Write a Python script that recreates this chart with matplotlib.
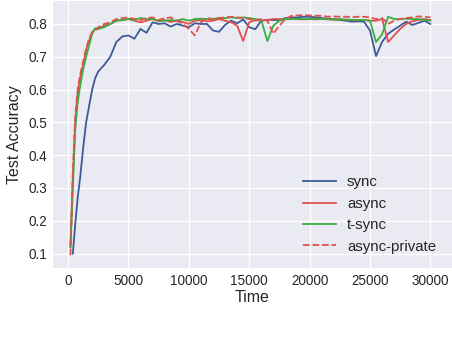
import numpy as np
import matplotlib
matplotlib.use("Agg")
import matplotlib.pyplot as plt

nan = np.nan
time = [200, 400, 600, 800, 1000, 1250, 1500, 1750, 2000, 2250, 2500,
        3000, 3500, 4000, 4500, 5000, 5500, 6000, 6500, 7000, 7500,
        8000, 8500, 9000, 9500, 10000, 10500, 11000, 11500, 12000, 12500,
        13000, 13500, 14000, 14500, 15000, 15500, 16000, 16500, 17000, 17500,
        18000, 18500, 19000, 19500, 20000, 20500, 21000, 21500, 22000, 22500,
        23000, 23500, 24000, 24500, 25000, 25500, 26000, 26500, 27000, 27500,
        28000, 28500, 29000, 29500, 30000]

sync = [nan, 0.10, 0.19, 0.27, 0.33, 0.42, 0.50, 0.55, 0.60, 0.635, 0.655,
        0.675, 0.70, 0.745, 0.762, 0.765, 0.755, 0.785, 0.773, 0.805, 0.800,
        0.802, 0.792, 0.800, 0.795, 0.790, 0.802, 0.800, 0.800, 0.780, 0.776,
        0.797, 0.810, 0.802, 0.814, 0.790, 0.784, 0.810, 0.813, 0.812, 0.812,
        0.818, 0.820, 0.820, 0.822, 0.822, 0.820, 0.818, 0.816, 0.815, 0.812,
        0.810, 0.807, 0.808, 0.807, 0.780, 0.702, 0.745, 0.770, 0.783, 0.795,
        0.807, 0.797, 0.803, 0.810, 0.800]

async_ = [0.12, 0.33, 0.50, 0.59, 0.635, 0.675, 0.72, 0.75, 0.775, 0.785, 0.785,
          0.795, 0.800, 0.810, 0.812, 0.815, 0.810, 0.805, 0.810, 0.815, 0.808,
          0.812, 0.806, 0.810, 0.806, 0.800, 0.810, 0.812, 0.808, 0.810, 0.815,
          0.810, 0.805, 0.795, 0.748, 0.805, 0.812, 0.810, 0.812, 0.815, 0.815,
          0.814, 0.816, 0.815, 0.814, 0.815, 0.814, 0.815, 0.814, 0.813, 0.814,
          0.813, 0.812, 0.812, 0.812, 0.810, 0.810, 0.815, 0.745, 0.765, 0.785,
          0.800, 0.808, 0.812, 0.815, 0.812]

tsync = [0.12, 0.30, 0.48, 0.56, 0.61, 0.66, 0.70, 0.735, 0.77, 0.787, 0.785,
         0.790, 0.800, 0.810, 0.812, 0.815, 0.812, 0.818, 0.815, 0.815, 0.810,
         0.810, 0.812, 0.810, 0.815, 0.810, 0.815, 0.816, 0.815, 0.815, 0.818,
         0.818, 0.820, 0.818, 0.820, 0.818, 0.815, 0.812, 0.748, 0.795, 0.810,
         0.815, 0.815, 0.816, 0.815, 0.815, 0.816, 0.815, 0.815, 0.814, 0.814,
         0.813, 0.813, 0.812, 0.812, 0.810, 0.745, 0.768, 0.822, 0.815, 0.815,
         0.816, 0.815, 0.815, 0.812, 0.810]

async_private = [0.095, 0.35, 0.52, 0.60, 0.645, 0.685, 0.725, 0.755, 0.775, 0.780, 0.790,
                 0.800, 0.805, 0.815, 0.818, 0.820, 0.815, 0.812, 0.818, 0.820, 0.812,
                 0.818, 0.820, 0.810, 0.800, 0.785, 0.765, 0.805, 0.818, 0.815, 0.818,
                 0.820, 0.822, 0.820, 0.818, 0.815, 0.810, 0.815, 0.810, 0.770, 0.795,
                 0.815, 0.825, 0.826, 0.827, 0.826, 0.825, 0.825, 0.822, 0.823, 0.822,
                 0.822, 0.821, 0.822, 0.822, 0.820, 0.815, 0.818, 0.800, 0.810, 0.815,
                 0.818, 0.820, 0.823, 0.822, 0.820]

xticks = [0, 5000, 10000, 15000, 20000, 25000, 30000]
yticks = [0.1, 0.2, 0.3, 0.4, 0.5, 0.6, 0.7, 0.8]

plt.rcParams['font.family'] = ['Liberation Sans', 'DejaVu Sans']

fig = plt.figure(figsize=(452 / 72, 338 / 72), dpi=72)
ax = fig.add_axes([53 / 452, 70 / 338, 399 / 452, 267 / 338])
ax.set_facecolor('#EAEAF2')
for s in ax.spines.values():
    s.set_visible(False)
ax.grid(True, color='white', linewidth=1.3)
ax.set_axisbelow(True)

lw = 1.8
ax.plot(time, sync, color='#3d5a98', lw=lw, label='sync')
ax.plot(time, async_, color='#e0504f', lw=lw, label='async')
ax.plot(time, tsync, color='#3aad3f', lw=lw, label='t-sync')
ax.plot(time, async_private, color='#e0504f', lw=lw, ls='--', label='async-private')

ax.set_xlim(-1242, 31788)
ax.set_ylim(0.056, 0.870)
ax.set_xticks(xticks)
ax.set_yticks(yticks)
ax.set_xticklabels([str(t) for t in xticks])
ax.set_yticklabels([f'{t:.1f}' for t in yticks])
ax.tick_params(axis='both', length=0, labelsize=13.5, colors='#262626', pad=6)
ax.set_xlabel('Time', fontsize=16, color='#262626', labelpad=2)
ax.set_ylabel('Test Accuracy', fontsize=16, color='#262626', labelpad=6)

leg = ax.legend(loc='upper left', bbox_to_anchor=((303 - 53) / 399, (268 - 175.5) / 267),
                frameon=False, fontsize=15, handlelength=2.2, handletextpad=0.73,
                labelspacing=0.49, borderpad=0, borderaxespad=0)
for t in leg.get_texts():
    t.set_color('#262626')

fig.savefig('out.png', dpi=72)
